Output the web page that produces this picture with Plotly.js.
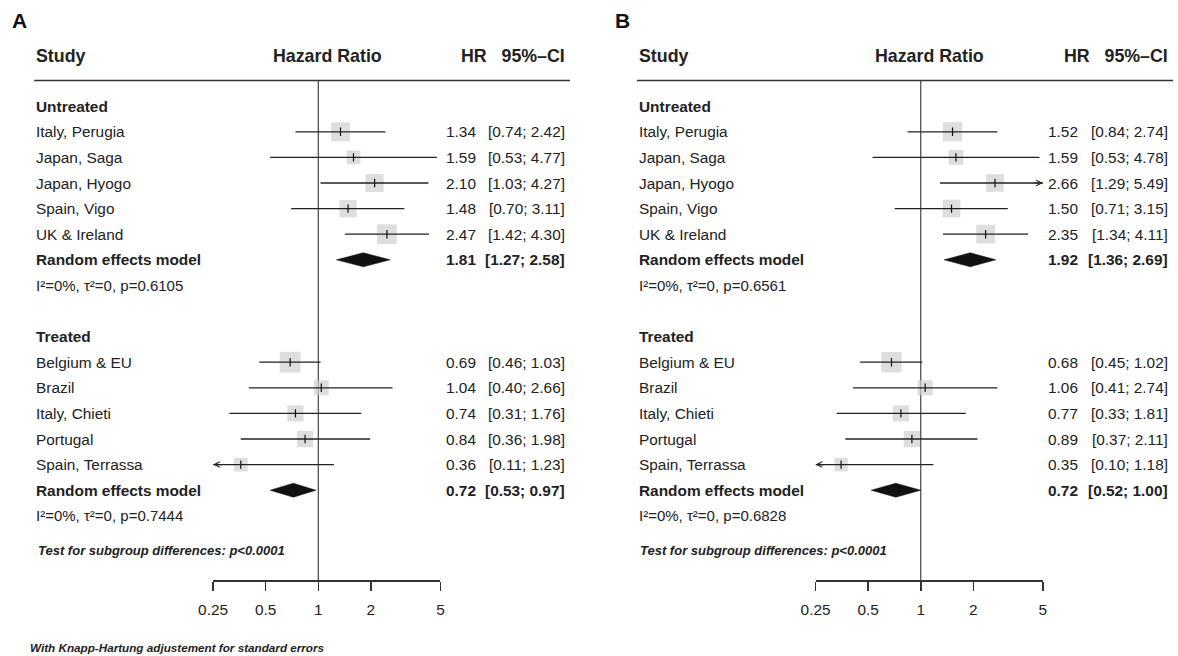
<!DOCTYPE html>
<html><head><meta charset="utf-8">
<script src="https://cdn.plot.ly/plotly-3.0.1.min.js"></script>
<style>html,body{margin:0;padding:0;background:#fff}#chart{width:1178px;height:656px}</style>
</head><body><div id="chart"></div>
<script>
// ---------- data ----------
const studiesUntreated = ['Italy, Perugia', 'Japan, Saga', 'Japan, Hyogo', 'Spain, Vigo', 'UK & Ireland'];
const studiesTreated = ['Belgium & EU', 'Brazil', 'Italy, Chieti', 'Portugal', 'Spain, Terrassa'];
const tickValues = [0.25, 0.5, 1, 2, 5];
const tickLabels = ['0.25', '0.5', '1', '2', '5'];

// Panel A
const hrA_untreated = [1.34, 1.59, 2.10, 1.48, 2.47];
const loA_untreated = [0.74, 0.53, 1.03, 0.70, 1.42];
const hiA_untreated = [2.42, 4.77, 4.27, 3.11, 4.30];
const wA_untreated = [12.2, 6.4, 11.1, 10.2, 13.4];
const hrA_treated = [0.69, 1.04, 0.74, 0.84, 0.36];
const loA_treated = [0.46, 0.40, 0.31, 0.36, 0.11];
const hiA_treated = [1.03, 2.66, 1.76, 1.98, 1.23];
const wA_treated = [14.8, 7.5, 9.0, 9.0, 6.4];
const pooledA_untreated = [1.81, 1.27, 2.58];
const pooledA_treated = [0.72, 0.53, 0.97];
const hetA = ['I\u00b2=0%, \u03c4\u00b2=0, p=0.6105', 'I\u00b2=0%, \u03c4\u00b2=0, p=0.7444'];

// Panel B
const hrB_untreated = [1.52, 1.59, 2.66, 1.50, 2.35];
const loB_untreated = [0.84, 0.53, 1.29, 0.71, 1.34];
const hiB_untreated = [2.74, 4.78, 5.49, 3.15, 4.11];
const wB_untreated = [12.8, 7.5, 10.7, 10.7, 12.0];
const hrB_treated = [0.68, 1.06, 0.77, 0.89, 0.35];
const loB_treated = [0.45, 0.41, 0.33, 0.37, 0.10];
const hiB_treated = [1.02, 2.74, 1.81, 2.11, 1.18];
const wB_treated = [14.3, 7.8, 9.0, 9.0, 6.2];
const pooledB_untreated = [1.92, 1.36, 2.69];
const pooledB_treated = [0.72, 0.52, 1.00];
const hetB = ['I\u00b2=0%, \u03c4\u00b2=0, p=0.6561', 'I\u00b2=0%, \u03c4\u00b2=0, p=0.6828'];

const subgroupTest = 'Test for subgroup differences: p<0.0001';
const footnote = 'With Knapp-Hartung adjustement for standard errors';

// ---------- layout helpers ----------
const W = 1178, H = 656;
const ROW0 = 55, ROWH = 25.6;           // pixel of row 0 and row height
const AXIS_PX = 580;
const axisRow = (AXIS_PX - ROW0) / ROWH;
const XMIN = 0.25, XMAX = 5;
const FONT = 'Liberation Sans, Arial, Helvetica, sans-serif';
const BODY = 15.4;
const HEAD = 17.8;

const panels = [
  {label: 'A', xa: 'x', one: 318.3, dbl: 52.6, labelX: 19.2, left: 34.2, lineRight: 570,
   hazardCenter: 327.2, hrRight: 478.5, ciRight: 567.4,
   groups: [
     {name: 'Untreated', studies: studiesUntreated, hr: hrA_untreated, lo: loA_untreated, hi: hiA_untreated, w: wA_untreated, pooled: pooledA_untreated, het: hetA[0]},
     {name: 'Treated', studies: studiesTreated, hr: hrA_treated, lo: loA_treated, hi: hiA_treated, w: wA_treated, pooled: pooledA_treated, het: hetA[1]}
   ]},
  {label: 'B', xa: 'x2', one: 920.75, dbl: 52.6, labelX: 622.5, left: 636.9, lineRight: 1173.1,
   hazardCenter: 929.9, hrRight: 1080.3, ciRight: 1170.3,
   groups: [
     {name: 'Untreated', studies: studiesUntreated, hr: hrB_untreated, lo: loB_untreated, hi: hiB_untreated, w: wB_untreated, pooled: pooledB_untreated, het: hetB[0]},
     {name: 'Treated', studies: studiesTreated, hr: hrB_treated, lo: loB_treated, hi: hiB_treated, w: wB_treated, pooled: pooledB_treated, het: hetB[1]}
   ]}
];

const traces = [];
const annotations = [];
const shapes = [];
const layout = {
  width: W, height: H, margin: {l: 0, r: 0, t: 0, b: 0},
  paper_bgcolor: '#fff', plot_bgcolor: 'rgba(0,0,0,0)', showlegend: false,
  font: {family: FONT, color: '#222'},
  yaxis: {domain: [0, 1], range: [(H - ROW0) / ROWH, -ROW0 / ROWH], visible: false, fixedrange: true},
  annotations: annotations, shapes: shapes
};

function txt(x, y, text, opts) {
  annotations.push(Object.assign({
    xref: 'paper', yref: 'y', x: x / W, y: y, text: text, showarrow: false,
    xanchor: 'left', yanchor: 'middle',
    font: {family: FONT, size: BODY, color: '#222'}
  }, opts || {}));
}
const f2 = v => v.toFixed(2);

panels.forEach((p, pi) => {
  const axKey = pi === 0 ? 'xaxis' : 'xaxis2';
  const lpx = p.one + p.dbl * Math.log2(XMIN);
  const rpx = p.one + p.dbl * Math.log2(XMAX);
  layout[axKey] = {
    type: 'log', domain: [lpx / W, rpx / W],
    range: [Math.log10(XMIN) - 1e-5, Math.log10(XMAX) + 1e-5],
    anchor: 'free', position: 1 - AXIS_PX / H,
    showline: true, linecolor: '#333', linewidth: 1.5,
    ticks: 'outside', ticklen: 9, tickwidth: 1.5, tickcolor: '#333',
    tickmode: 'array', tickvals: tickValues, ticktext: tickLabels,
    tickfont: {family: FONT, size: BODY, color: '#222'},
    ticklabelstandoff: 6,
    showgrid: false, zeroline: false, fixedrange: true
  };

  // panel letter and header
  txt(p.labelX, -1.33, '<b>' + p.label + '</b>', {xanchor: 'center', font: {family: FONT, size: 21, color: '#111'}});
  txt(p.left, 0.05, '<b>Study</b>', {font: {family: FONT, size: HEAD, color: '#222'}});
  txt(p.hazardCenter, 0.05, '<b>Hazard Ratio</b>', {xanchor: 'center', font: {family: FONT, size: HEAD, color: '#222'}});
  txt(p.ciRight, 0.05, '<b>HR</b>   <b>95%\u2013CI</b>', {xanchor: 'right', font: {family: FONT, size: HEAD, color: '#222'}});
  shapes.push({type: 'line', xref: 'paper', yref: 'y', x0: p.left / W, x1: p.lineRight / W, y0: 1, y1: 1,
               line: {color: '#333', width: 1.5}});

  // reference line at HR = 1
  traces.push({x: [1, 1], y: [1, axisRow], xaxis: p.xa, yaxis: 'y', mode: 'lines',
               line: {color: '#444', width: 1.2}, hoverinfo: 'skip'});

  p.groups.forEach((g, gi) => {
    const base = gi === 0 ? 2 : 11;
    const rows = g.studies.map((_, i) => base + 1 + i);
    txt(p.left, base, '<b>' + g.name + '</b>');
    g.studies.forEach((s, i) => {
      txt(p.left, rows[i], s);
      txt(p.hrRight, rows[i], f2(g.hr[i]), {xanchor: 'right'});
      txt(p.ciRight, rows[i], '[' + f2(g.lo[i]) + '; ' + f2(g.hi[i]) + ']', {xanchor: 'right'});
    });
    // squares
    traces.push({x: g.hr, y: rows, xaxis: p.xa, yaxis: 'y', mode: 'markers', cliponaxis: false,
                 marker: {symbol: 'square', color: '#d0d0d0', size: g.w.map(w => Math.sqrt(w) * 5.4), line: {width: 0}},
                 hoverinfo: 'skip'});
    // CI lines (clipped to axis limits)
    const cx = [], cy = [];
    g.studies.forEach((_, i) => {
      cx.push(Math.max(g.lo[i], XMIN), Math.min(g.hi[i], XMAX), null);
      cy.push(rows[i], rows[i], null);
      if (g.lo[i] < XMIN) {
        annotations.push({xref: p.xa, yref: 'y', x: Math.log10(XMIN), y: rows[i], text: '', showarrow: true,
          ax: 10, ay: 0, arrowhead: 5, arrowsize: 0.9, arrowwidth: 1.2, arrowcolor: '#222'});
      }
      if (g.hi[i] > XMAX) {
        annotations.push({xref: p.xa, yref: 'y', x: Math.log10(XMAX), y: rows[i], text: '', showarrow: true,
          ax: -10, ay: 0, arrowhead: 5, arrowsize: 0.9, arrowwidth: 1.2, arrowcolor: '#222'});
      }
    });
    traces.push({x: cx, y: cy, xaxis: p.xa, yaxis: 'y', mode: 'lines', line: {color: '#222', width: 1.3},
                 hoverinfo: 'skip'});
    // point-estimate ticks
    traces.push({x: g.hr, y: rows, xaxis: p.xa, yaxis: 'y', mode: 'markers',
                 marker: {symbol: 'line-ns', size: 6, line: {color: '#111', width: 1.2}}, hoverinfo: 'skip'});
    // pooled diamond
    const dr = base + 6;
    const hh = 7 / ROWH;
    traces.push({x: [g.pooled[1], g.pooled[0], g.pooled[2], g.pooled[0], g.pooled[1]],
                 y: [dr, dr - hh, dr, dr + hh, dr], xaxis: p.xa, yaxis: 'y', mode: 'lines', fill: 'toself',
                 fillcolor: '#111', line: {color: '#111', width: 0.5}, hoverinfo: 'skip'});
    txt(p.left, dr, '<b>Random effects model</b>');
    txt(p.hrRight, dr, '<b>' + f2(g.pooled[0]) + '</b>', {xanchor: 'right'});
    txt(p.ciRight, dr, '<b>[' + f2(g.pooled[1]) + '; ' + f2(g.pooled[2]) + ']</b>', {xanchor: 'right'});
    txt(p.left, dr + 1, g.het, {font: {family: FONT, size: 15, color: '#222'}});
  });

  txt(p.left + 1.5, 19.37, '<b><i>' + subgroupTest + '</i></b>', {font: {family: FONT, size: 13, color: '#222'}});
});

txt(28.2, (647 - ROW0) / ROWH, '<b><i>' + footnote + '</i></b>', {font: {family: FONT, size: 11.7, color: '#222'}});

Plotly.newPlot('chart', traces, layout, {displayModeBar: false, staticPlot: true});
</script>
</body></html>
